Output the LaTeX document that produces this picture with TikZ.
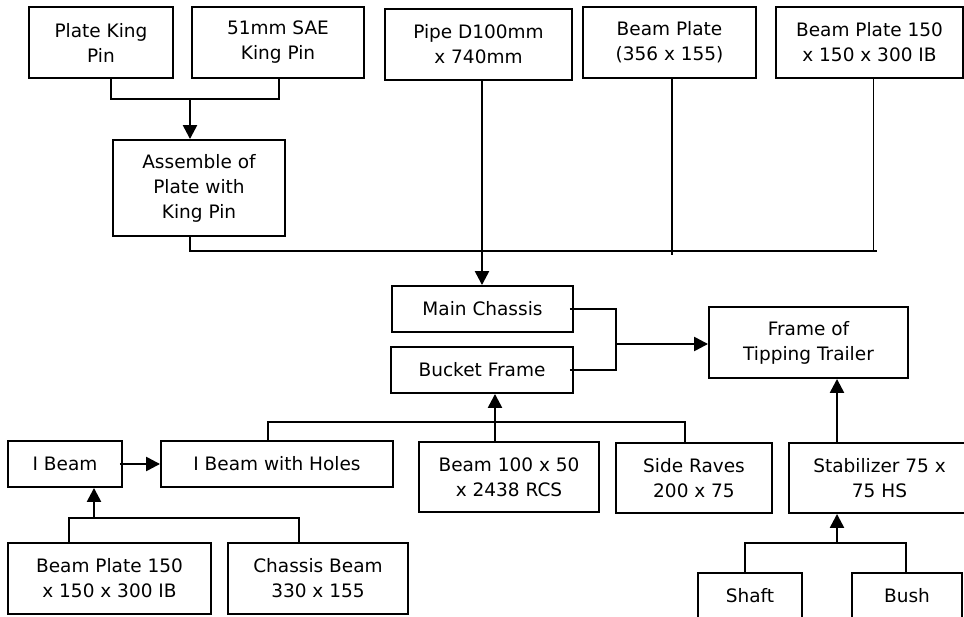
\documentclass[tikz,border=0pt]{standalone}
\usepackage{fontspec}
\setmainfont{DejaVu Sans}
\usetikzlibrary{arrows.meta}
\begin{document}
\begin{tikzpicture}[x=1pt,y=-1pt,
  box/.style={draw,line width=1.9pt,inner sep=0pt,align=center,
    font=\fontsize{18.5}{25}\selectfont},
  conn/.style={line width=1.8pt},
  arr/.style={line width=2.4pt,-{Triangle[length=14pt,width=14pt]}}]
\useasboundingbox (0,0) rectangle (964,617);
% top row
\node[box,minimum width=144,minimum height=71] (pkp) at (101,42.5) {Plate King\\Pin};
\node[box,minimum width=172,minimum height=71] (sae) at (278,42.5) {51mm SAE\\King Pin};
\node[box,minimum width=187,minimum height=71] (pipe) at (478.5,44.5) {Pipe D100mm\\x 740mm};
\node[box,minimum width=173,minimum height=71] (bp356) at (669.5,42.5) {Beam Plate\\(356 x 155)};
\node[box,minimum width=187,minimum height=71] (bptop) at (869.5,42.5) {Beam Plate 150\\x 150 x 300 IB};
\node[box,minimum width=172,minimum height=96] (asm) at (199,188) {Assemble of\\Plate with\\King Pin};
% middle
\node[box,minimum width=181,minimum height=46] (mc) at (482.5,309) {Main Chassis};
\node[box,minimum width=182,minimum height=46] (bf) at (482,370) {Bucket Frame};
\node[box,minimum width=199,minimum height=71] (frame) at (808.5,342.5) {Frame of\\Tipping Trailer};
% lower rows
\node[box,minimum width=114,minimum height=46] (ib) at (65,464) {I Beam};
\node[box,minimum width=232,minimum height=46] (ibh) at (277,464) {I Beam with Holes};
\node[box,minimum width=180,minimum height=70] (b100) at (509,477) {Beam 100 x 50\\x 2438 RCS};
\node[box,minimum width=156,minimum height=70] (side) at (694,478) {Side Raves\\200 x 75};
\node[box,minimum width=181,minimum height=70] (stab) at (879.5,478) {Stabilizer 75 x\\75 HS};
\node[box,minimum width=203,minimum height=71] (bpbot) at (109.5,578.5) {Beam Plate 150\\x 150 x 300 IB};
\node[box,minimum width=180,minimum height=71] (cb) at (318,578.5) {Chassis Beam\\330 x 155};
\node[box,minimum width=104,minimum height=46] (shaft) at (750,596) {Shaft};
\node[box,minimum width=110,minimum height=46] (bush) at (907,596) {Bush};
% junction points
\coordinate (j1) at (190,99);
\coordinate (bus) at (877,251);
\coordinate (j2) at (616,344);
\coordinate (j3) at (495,422);
\coordinate (j4) at (94,518);
\coordinate (j5) at (837,543);
% king pin group
\draw[conn] ([xshift=10]pkp.south) |- (j1) -| ([xshift=1]sae.south);
\draw[arr] (j1) -- (j1 |- asm.north);
% bus to main chassis
\draw[conn] ([xshift=-9]asm.south) |- (bus);
\draw[conn] ([xshift=4]bptop.south) -- ([xshift=4]bptop.south |- bus);
\draw[conn] ([xshift=2.5]bp356.south) -- ++(0,176);
\draw[arr] ([xshift=3.5]pipe.south) -- ([xshift=3.5]pipe.south |- mc.north);
% to frame
\draw[conn] ([xshift=-4]mc.east) -| (j2);
\draw[conn] ([xshift=-4]bf.east) -| (j2);
\draw[arr] (j2) -- (j2 -| frame.west);
\draw[arr] ([xshift=-42.5]stab.north) -- ([xshift=-42.5]stab.north |- frame.south);
% bucket frame group
\draw[conn] ([xshift=-9]ibh.north) |- (j3) -| ([xshift=-9]side.north);
\draw[arr] ([xshift=-14]b100.north) -- ([xshift=-14]b100.north |- bf.south);
% I beam
\draw[arr] ([xshift=-3]ib.east) -- (ibh.west);
\draw[conn] ([xshift=-40.5]bpbot.north) |- (j4) -| ([xshift=-19]cb.north);
\draw[arr] (j4) -- (j4 |- ib.south);
% stabilizer
\draw[conn] ([xshift=-5]shaft.north) |- (j5) -| ([xshift=-1]bush.north);
\draw[arr] (j5) -- (j5 |- stab.south);
\end{tikzpicture}
\end{document}
